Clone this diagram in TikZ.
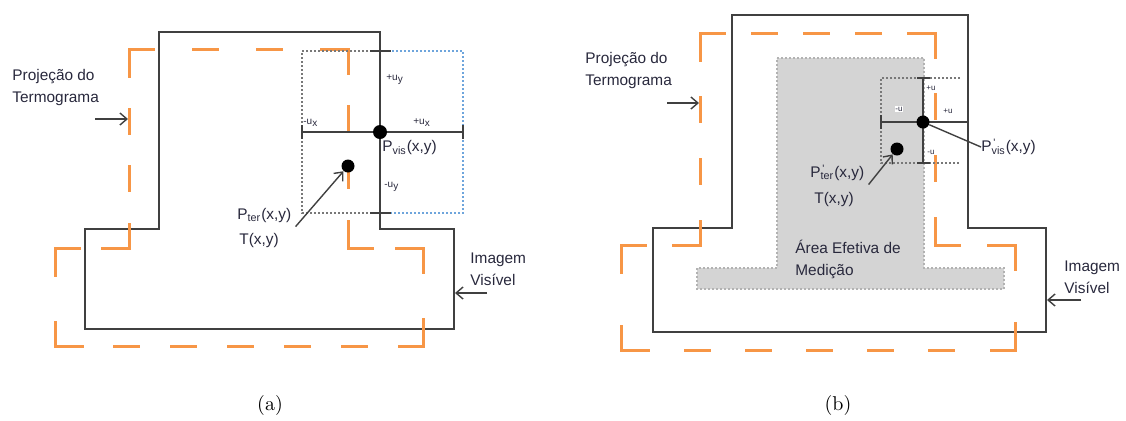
\documentclass[tikz,border=0pt]{standalone}
\usepackage{fontspec}
\newfontfamily\sansf{Liberation Sans}
\usetikzlibrary{arrows.meta}
\definecolor{orng}{RGB}{247,150,70}
\definecolor{dk}{RGB}{64,64,64}
\definecolor{txt}{RGB}{40,40,60}
\definecolor{lblue}{RGB}{110,165,220}
\definecolor{dgray}{RGB}{120,120,120}
\definecolor{area}{RGB}{212,212,212}
% one side of the dashed projection outline, with a dash at each end
\newcommand\projseg[4]{%
  \pgfmathsetmacro\segL{veclen(#3-#1,#4-#2)}%
  \pgfmathsetmacro\segN{max(2,round((\segL+30)/57))}%
  \pgfmathsetmacro\segG{(\segL-\segN*27)/(\segN-1)}%
  \pgfmathsetmacro\onL{(27-3)*0.5}%
  \pgfmathsetmacro\offL{(\segG+3)*0.5}%
  \draw[projline, dash pattern=on \onL pt off \offL pt] (#1,#2) -- (#3,#4);}
\begin{document}
\begin{tikzpicture}[x=0.5pt,y=-0.5pt,
  outline/.style={draw=dk, line width=1.25pt, line join=miter},
  projline/.style={draw=orng, line width=1.5pt, line cap=rect},
  dotln/.style={draw=dgray, line width=0.8pt, dash pattern=on 0.8pt off 1.2pt},
  bluedot/.style={draw=lblue, line width=0.8pt, dash pattern=on 0.8pt off 1.2pt},
  bar/.style={draw=dk, line width=1.2pt},
  thinbar/.style={draw=dk, line width=0.7pt},
  bigdot/.style={circle, fill=black, inner sep=0pt, minimum size=7pt},
  lbl/.style={font=\sansf\fontsize{7.7}{11}\selectfont, text=txt, inner sep=0pt},
  tiny/.style={font=\sansf\fontsize{5}{6}\selectfont, text=txt, inner sep=0pt},
  tinier/.style={font=\sansf\fontsize{4}{5}\selectfont, text=txt, inner sep=0.3pt},
  arr/.style={draw=dk, line width=0.7pt, -{Straight Barb[length=3.5pt,width=6pt]}},
  captxt/.style={font=\fontsize{10}{12}\selectfont, inner sep=0pt}
]
\useasboundingbox (0,0) rectangle (1126,420);

% ================= panel (a) =================
% visible image outline
\draw[outline] (159,32) -- (380,32) -- (380,229) -- (454,229) -- (454,329) -- (85,329) -- (85,229) -- (159,229) -- cycle;
% thermogram projection
\projseg{129}{49}{348}{49}
\projseg{348}{49}{348}{248}
\projseg{348}{248}{423}{248}
\projseg{423}{248}{423}{346}
\projseg{423}{346}{55}{346}
\projseg{55}{346}{55}{248}
\projseg{55}{248}{129}{248}
\projseg{129}{248}{129}{49}
% search windows
\draw[dotln] (380,51) -- (302,51) -- (302,213) -- (380,213);
\draw[bluedot] (380,51) -- (463,51) -- (463,213) -- (380,213);
\draw[bar] (370,51) -- (391,51);
\draw[bar] (370,213) -- (391,213);
% horizontal bar
\coordinate (hbl) at (302,132); \coordinate (hbr) at (463,132);
\draw[bar] (hbl) -- (hbr);
\draw[bar] (302,125) -- (302,139);
\draw[bar] (463,125) -- (463,139);
% points
\node[bigdot] (pvisA) at (380,132) {};
\node[bigdot, minimum size=6.5pt] (pterA) at (348,166) {};
% labels
\node[tiny, anchor=west] (uyp) at (386,80) {+u\textsubscript{y}};
\node[tiny, anchor=west] (uxm) at (303,123) {-u\textsubscript{x}};
\node[tiny, anchor=west] (uxp) at (413,123) {+u\textsubscript{x}};
\node[tiny, anchor=west] (uym) at (384,187) {-u\textsubscript{y}};
\node[lbl, anchor=west] (pvislA) at (382,148) {P\textsubscript{vis}(x,y)};
\node[lbl, anchor=west] (pterlA) at (237,216) {P\textsubscript{ter}(x,y)};
\node[lbl, anchor=west] (tlA) at (239,241) {T(x,y)};
\draw[arr] ([shift={(4,3)}]pterlA.south east) -- (pterA);
\node[lbl, anchor=west, align=left] (projA) at (12,88) {Projeção do\\Termograma};
\coordinate (pa1) at (95,119); \coordinate (pa2) at (128,119);
\draw[arr] (pa1) -- (pa2);
\node[lbl, anchor=west, align=left] (imgA) at (470,269) {Imagem\\Visível};
\coordinate (ia1) at (487,293); \coordinate (ia2) at (455,293);
\draw[arr] (ia1) -- (ia2);
\node[captxt] (capa) at (270,405) {(a)};

% ================= panel (b) =================
% effective area
\draw[fill=area, draw=black!30, line width=0.6pt, dash pattern=on 0.8pt off 1.2pt]
  (777,58) -- (924,58) -- (924,268) -- (1004,268) -- (1004,289) -- (697,289) -- (697,268) -- (777,268) -- cycle;
% visible image outline
\draw[outline] (732,15) -- (968,15) -- (968,228) -- (1046,228) -- (1046,332) -- (653,332) -- (653,228) -- (732,228) -- cycle;
% thermogram projection
\projseg{700}{33}{935}{33}
\projseg{935}{33}{935}{245}
\projseg{935}{245}{1015}{245}
\projseg{1015}{245}{1015}{350}
\projseg{1015}{350}{621}{350}
\projseg{621}{350}{621}{245}
\projseg{621}{245}{700}{245}
\projseg{700}{245}{700}{33}
% search window
\draw[dotln] (960,78) -- (881,78) -- (881,163) -- (960,163);
\draw[thinbar] (923,78) -- (923,163);
\draw[thinbar] (917,78) -- (930,78);
\draw[thinbar] (917,163) -- (930,163);
\draw[bar] (881,122) -- (968,122);
\draw[bar] (881,115) -- (881,129);
% points
\node[bigdot, minimum size=6.5pt] (pvisB) at (923,122) {};
\node[bigdot, minimum size=6.5pt] (pterB) at (897,149) {};
% labels
\node[tinier] (uypB) at (931,88) {+u};
\node[tinier, fill=white] (uxmB) at (899,109) {-u};
\node[tinier] (uxpB) at (948,111) {+u};
\node[tinier] (uymB) at (931,152) {-u};
\node[lbl, anchor=west] (pvislB) at (981,147) {P\rlap{\textsuperscript{\,\textquotesingle}}\textsubscript{vis}(x,y)};
\draw[thinbar] (pvisB) -- (pvislB.west);
\node[lbl, anchor=west] (pterlB) at (810,173) {P\rlap{\textsuperscript{\,\textquotesingle}}\textsubscript{ter}(x,y)};
\node[lbl, anchor=west] (tlB) at (814,200) {T(x,y)};
\draw[arr] ([shift={(4,3)}]pterlB.south east) -- (pterB);
\node[lbl, anchor=west, align=left] (areaB) at (795,259) {Área Efetiva de\\Medição};
\node[lbl, anchor=west, align=left] (projB) at (585,71) {Projeção do\\Termograma};
\coordinate (pb1) at (667,103); \coordinate (pb2) at (699,103);
\draw[arr] (pb1) -- (pb2);
\node[lbl, anchor=west, align=left] (imgB) at (1064,277) {Imagem\\Visível};
\coordinate (ib1) at (1081,300); \coordinate (ib2) at (1047,300);
\draw[arr] (ib1) -- (ib2);
\node[captxt] (capb) at (838,405) {(b)};
\end{tikzpicture}
\end{document}
